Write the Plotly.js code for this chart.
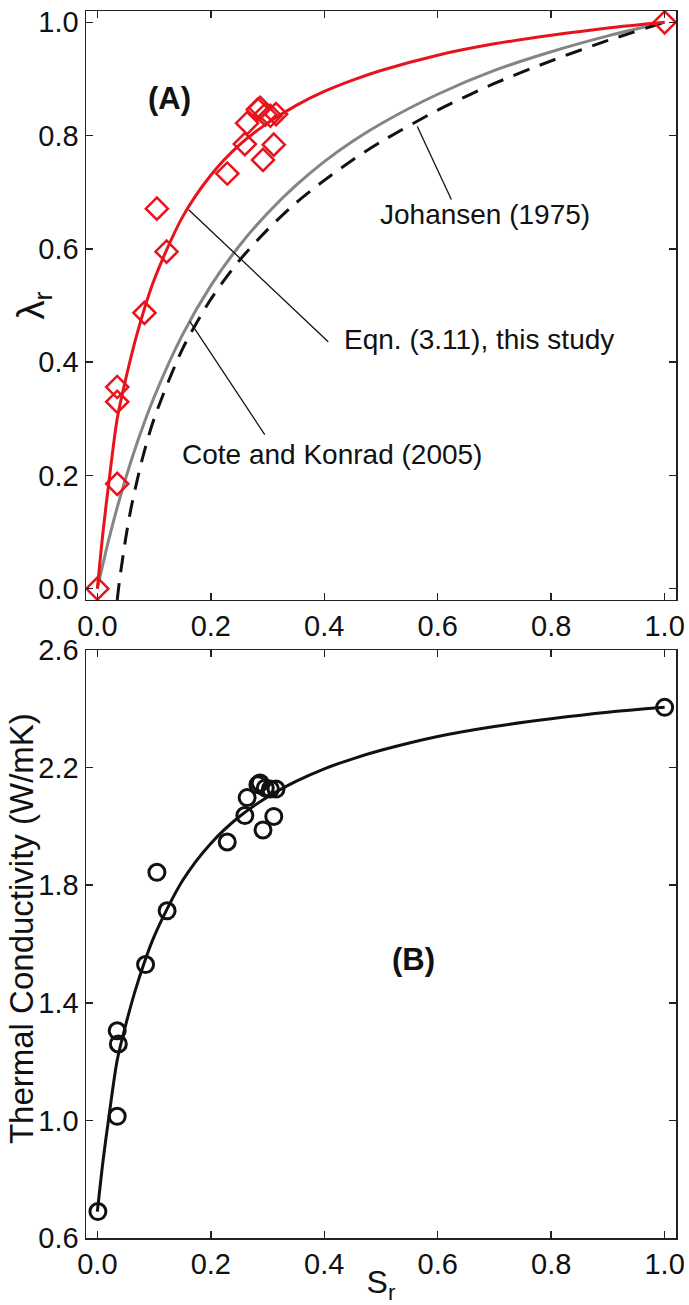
<!DOCTYPE html>
<html>
<head>
<meta charset="utf-8">
<script src="https://cdn.plot.ly/plotly-3.0.1.min.js"></script>
<style>html,body{margin:0;padding:0;background:#fff;}</style>
</head>
<body>
<div id="chart" style="width:689px;height:1305px;"></div>
<script>
// Panel A: measured normalized conductivity (red diamonds)
const srA = [0, 0.035, 0.035, 0.035, 0.083, 0.105, 0.122, 0.229, 0.260, 0.264, 0.283, 0.287, 0.296, 0.305, 0.315, 0.292, 0.311, 1.0];
const lamA = [0, 0.185, 0.330, 0.356, 0.487, 0.671, 0.595, 0.733, 0.785, 0.822, 0.846, 0.849, 0.837, 0.835, 0.838, 0.757, 0.784, 1.0];

// Panel A: Eqn (3.11) curve (red)
const srEqn = [0, 0.01, 0.02, 0.035, 0.05, 0.07, 0.10, 0.15, 0.20, 0.25, 0.30, 0.35, 0.40, 0.45, 0.50, 0.60, 0.70, 0.80, 0.90, 1.0];
const lamEqn = [0, 0.100, 0.185, 0.300, 0.370, 0.450, 0.545, 0.656, 0.730, 0.783, 0.822, 0.853, 0.878, 0.898, 0.915, 0.942, 0.962, 0.977, 0.990, 1.0];

// Panel A: Cote and Konrad (2005) curve (gray)
const srCK = [0, 0.02, 0.04, 0.07, 0.10, 0.15, 0.20, 0.25, 0.30, 0.35, 0.40, 0.45, 0.50, 0.60, 0.70, 0.80, 0.90, 1.0];
const lamCK = [0, 0.086, 0.161, 0.257, 0.338, 0.448, 0.535, 0.605, 0.663, 0.712, 0.754, 0.790, 0.821, 0.873, 0.915, 0.948, 0.976, 1.0];

// Panel A: Johansen (1975) curve (black dashed)
const srJo = [0.035, 0.0373, 0.04, 0.05, 0.06, 0.08, 0.10, 0.15, 0.20, 0.25, 0.30, 0.35, 0.40, 0.45, 0.50, 0.60, 0.70, 0.80, 0.90, 1.0];
const lamJo = [-0.02, 0.0, 0.021, 0.089, 0.145, 0.232, 0.300, 0.423, 0.511, 0.579, 0.634, 0.681, 0.721, 0.757, 0.789, 0.845, 0.892, 0.932, 0.968, 1.0];

// Panel B: measured thermal conductivity (black circles)
const srB = [0.001, 0.035, 0.037, 0.035, 0.085, 0.105, 0.123, 0.229, 0.260, 0.264, 0.283, 0.287, 0.296, 0.305, 0.315, 0.292, 0.311, 1.0];
const kB = [0.690, 1.014, 1.260, 1.305, 1.530, 1.844, 1.713, 1.947, 2.037, 2.098, 2.142, 2.148, 2.131, 2.127, 2.127, 1.988, 2.034, 2.405];

// Panel B: fitted curve (black)
const srFit = [0, 0.01, 0.02, 0.035, 0.05, 0.07, 0.10, 0.15, 0.20, 0.25, 0.30, 0.35, 0.40, 0.45, 0.50, 0.60, 0.70, 0.80, 0.90, 1.0];
const kFit = [0.690, 0.862, 1.007, 1.205, 1.325, 1.462, 1.625, 1.815, 1.942, 2.033, 2.100, 2.153, 2.196, 2.230, 2.259, 2.306, 2.340, 2.366, 2.388, 2.405];

// Tick labels
const xTicks = [0, 0.2, 0.4, 0.6, 0.8, 1.0];
const xTickText = ['0.0', '0.2', '0.4', '0.6', '0.8', '1.0'];
const yTicksA = [0, 0.2, 0.4, 0.6, 0.8, 1.0];
const yTickTextA = ['0.0', '0.2', '0.4', '0.6', '0.8', '1.0'];
const yTicksB = [0.6, 1.0, 1.4, 1.8, 2.2, 2.6];
const yTickTextB = ['0.6', '1.0', '1.4', '1.8', '2.2', '2.6'];

const FONT = 'Liberation Sans, Arial, Helvetica, sans-serif';
const INK = '#111';

const traces = [
  {x: srCK, y: lamCK, xaxis: 'x', yaxis: 'y', mode: 'lines',
   line: {color: '#858585', width: 3, shape: 'spline', smoothing: 0.8}, hoverinfo: 'skip'},
  {x: srJo, y: lamJo, xaxis: 'x', yaxis: 'y', mode: 'lines',
   line: {color: '#111', width: 3, dash: '17px,11px', shape: 'spline', smoothing: 0.8}, hoverinfo: 'skip'},
  {x: srEqn, y: lamEqn, xaxis: 'x', yaxis: 'y', mode: 'lines',
   line: {color: '#e8131d', width: 3, shape: 'spline', smoothing: 0.8}, hoverinfo: 'skip'},
  {x: srA, y: lamA, xaxis: 'x', yaxis: 'y', mode: 'markers',
   marker: {symbol: 'diamond-open', size: 17, color: '#e8131d', line: {width: 2.5, color: '#e8131d'}}},
  {x: srFit, y: kFit, xaxis: 'x2', yaxis: 'y2', mode: 'lines',
   line: {color: '#111', width: 3, shape: 'spline', smoothing: 0.8}, hoverinfo: 'skip'},
  {x: srB, y: kB, xaxis: 'x2', yaxis: 'y2', mode: 'markers',
   marker: {symbol: 'circle-open', size: 16, color: '#111', line: {width: 3, color: '#111'}}}
];

const axisCommon = {
  showgrid: false, zeroline: false, showline: true, linecolor: '#222', linewidth: 1.5,
  mirror: 'ticks', ticks: 'inside', ticklen: 7, tickwidth: 1.5, tickcolor: '#222',
  tickfont: {family: FONT, size: 29, color: INK}
};

// leader lines from curves to their labels
const leader = (x0, y0, x1, y1) => ({type: 'line', xref: 'x', yref: 'y', x0: x0, y0: y0, x1: x1, y1: y1,
  line: {color: INK, width: 1.3}});

const layout = {
  width: 689, height: 1305,
  margin: {l: 86, r: 13, t: 11, b: 67},
  paper_bgcolor: '#fff', plot_bgcolor: '#fff',
  showlegend: false,
  font: {family: FONT, color: INK},
  xaxis: Object.assign({}, axisCommon, {domain: [0, 1], range: [-0.02, 1.02], anchor: 'y',
    tickvals: xTicks, ticktext: xTickText}),
  yaxis: Object.assign({}, axisCommon, {domain: [0.52, 1], range: [-0.02, 1.02], anchor: 'x',
    tickvals: yTicksA, ticktext: yTickTextA}),
  xaxis2: Object.assign({}, axisCommon, {domain: [0, 1], range: [-0.02, 1.02], anchor: 'y2',
    tickvals: xTicks, ticktext: xTickText,
    title: {text: 'S<sub>r</sub>', font: {family: FONT, size: 32, color: INK}, standoff: 0}}),
  yaxis2: Object.assign({}, axisCommon, {domain: [0, 0.4792], range: [0.6, 2.6], anchor: 'x2',
    tickvals: yTicksB, ticktext: yTickTextB}),
  shapes: [
    leader(0.564, 0.816, 0.624, 0.687),
    leader(0.161, 0.669, 0.407, 0.436),
    leader(0.163, 0.472, 0.295, 0.272)
  ],
  annotations: [
    // y-axis titles as rotated texts
    {xref: 'paper', yref: 'y', x: -0.088, y: 0.50, text: 'λ<sub>r</sub>', textangle: -90,
     showarrow: false, xanchor: 'center', yanchor: 'middle',
     font: {family: FONT, size: 38, color: INK}},
    {xref: 'paper', yref: 'paper', x: -0.108, y: 0.2520, text: 'Thermal Conductivity (W/mK)', textangle: -90,
     showarrow: false, xanchor: 'center', yanchor: 'middle',
     font: {family: FONT, size: 33, color: INK}},
    {xref: 'x', yref: 'y', x: 0.128, y: 0.865, text: '<b>(A)</b>', showarrow: false,
     font: {family: FONT, size: 31, color: INK}},
    {xref: 'x2', yref: 'y2', x: 0.558, y: 1.547, text: '<b>(B)</b>', showarrow: false,
     font: {family: FONT, size: 31, color: INK}},
    {xref: 'x', yref: 'y', x: 0.683, y: 0.66, text: 'Johansen (1975)', showarrow: false,
     font: {family: FONT, size: 28, color: INK}},
    {xref: 'x', yref: 'y', x: 0.6725, y: 0.44, text: 'Eqn. (3.11), this study', showarrow: false,
     font: {family: FONT, size: 28, color: INK}},
    {xref: 'x', yref: 'y', x: 0.413, y: 0.236, text: 'Cote and Konrad (2005)', showarrow: false,
     font: {family: FONT, size: 28, color: INK}}
  ]
};

Plotly.newPlot('chart', traces, layout, {displayModeBar: false, staticPlot: true});
</script>
</body>
</html>
